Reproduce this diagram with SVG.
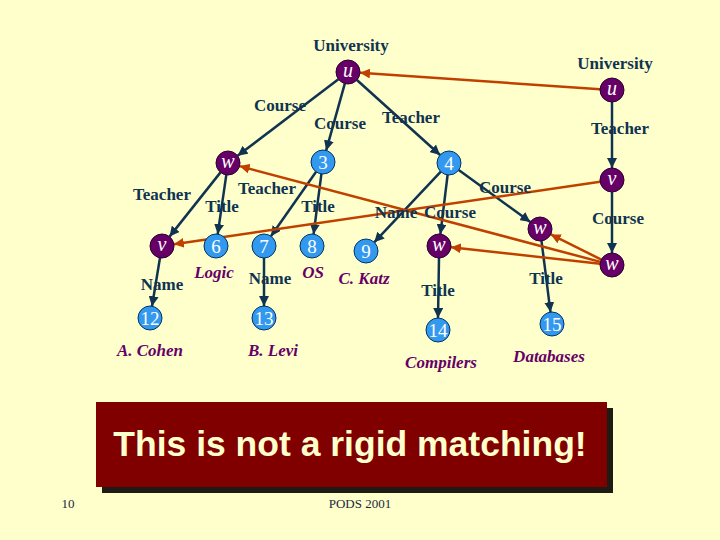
<svg xmlns="http://www.w3.org/2000/svg" width="720" height="540" viewBox="0 0 720 540">
<style>
.lbl{font-family:"Liberation Serif",serif;font-weight:bold;font-size:17px;fill:#0f3350;text-anchor:middle}
.val{font-family:"Liberation Serif",serif;font-weight:bold;font-style:italic;font-size:17px;fill:#660066;text-anchor:middle}
.pn circle{fill:#660066;stroke:#2a0033;stroke-width:1}
.bn circle{fill:#3399ee;stroke:#003366;stroke-width:1}
.pn text{font-family:"Liberation Serif",serif;font-style:italic;font-size:20px;fill:#ffffff;text-anchor:middle}
.bn text{font-family:"Liberation Serif",serif;font-size:19px;fill:#ffffff;text-anchor:middle}
.e{stroke:#0f3350;stroke-width:2.5;fill:none;marker-end:url(#ah)}
.m{stroke:#c04000;stroke-width:2.5;fill:none;marker-end:url(#rh)}
.foot{font-family:"Liberation Serif",serif;font-size:13px;fill:#1a2a3a;text-anchor:middle}
</style>
<defs>
<marker id="ah" viewBox="0 0 10 10" refX="10" refY="5" markerWidth="4" markerHeight="4" orient="auto" markerUnits="strokeWidth"><path d="M0,0 L10,5 L0,10 z" fill="#0f3350"/></marker>
<marker id="rh" viewBox="0 0 10 10" refX="10" refY="5" markerWidth="4" markerHeight="4" orient="auto" markerUnits="strokeWidth"><path d="M0,0 L10,5 L0,10 z" fill="#c04000"/></marker>
</defs>
<rect x="0" y="0" width="720" height="540" fill="#ffffcc"/>
<g id="connectors">
<line class="e" x1="338.4" y1="79.2" x2="237.6" y2="155.8"/>
<line class="e" x1="344.8" y1="83.6" x2="326.2" y2="150.4"/>
<line class="e" x1="356.9" y1="80" x2="440.1" y2="155"/>
<line class="e" x1="220.5" y1="172.4" x2="169.5" y2="236.6"/>
<line class="e" x1="226.3" y1="174.9" x2="217.7" y2="234.1"/>
<line class="e" x1="316.1" y1="171.8" x2="270.9" y2="236.2"/>
<line class="e" x1="321.4" y1="173.9" x2="313.6" y2="234.1"/>
<line class="e" x1="440.8" y1="171.7" x2="374.2" y2="242.3"/>
<line class="e" x1="447.6" y1="174.9" x2="440.4" y2="234.1"/>
<line class="e" x1="458.7" y1="170" x2="530.3" y2="222"/>
<line class="e" x1="160" y1="257.8" x2="152" y2="306.2"/>
<line class="e" x1="264" y1="258" x2="264" y2="306"/>
<line class="e" x1="439" y1="258" x2="438" y2="318"/>
<line class="e" x1="541.5" y1="240.9" x2="550.5" y2="312.1"/>
<line class="e" x1="612" y1="102" x2="612" y2="168"/>
<line class="e" x1="612" y1="192" x2="612" y2="253"/>
<line class="m" x1="600" y1="89.2" x2="360" y2="72.8"/>
<line class="m" x1="600.1" y1="181.7" x2="173.9" y2="244.3"/>
<line class="m" x1="600.4" y1="261.9" x2="239.6" y2="166.1"/>
<line class="m" x1="600.1" y1="263.7" x2="450.9" y2="247.3"/>
<line class="m" x1="601.3" y1="259.6" x2="550.7" y2="234.4"/>
</g>
<g id="edge-labels">
<text class="lbl" x="351" y="51">University</text>
<text class="lbl" x="615" y="69">University</text>
<text class="lbl" x="280" y="111">Course</text>
<text class="lbl" x="340" y="129">Course</text>
<text class="lbl" x="411" y="123">Teacher</text>
<text class="lbl" x="620" y="134">Teacher</text>
<text class="lbl" x="162" y="200">Teacher</text>
<text class="lbl" x="222" y="212">Title</text>
<text class="lbl" x="267" y="194">Teacher</text>
<text class="lbl" x="318" y="212">Title</text>
<text class="lbl" x="396" y="218">Name</text>
<text class="lbl" x="450" y="218">Course</text>
<text class="lbl" x="505" y="193">Course</text>
<text class="lbl" x="618" y="224">Course</text>
<text class="lbl" x="162" y="290">Name</text>
<text class="lbl" x="270" y="284">Name</text>
<text class="lbl" x="438" y="296">Title</text>
<text class="lbl" x="546" y="284">Title</text>
</g>
<g id="values">
<text class="val" x="214" y="278">Logic</text>
<text class="val" x="313" y="278">OS</text>
<text class="val" x="364" y="284">C. Katz</text>
<text class="val" x="150" y="356">A. Cohen</text>
<text class="val" x="273" y="356">B. Levi</text>
<text class="val" x="441" y="368">Compilers</text>
<text class="val" x="549" y="362">Databases</text>
</g>
<g id="uL" class="pn"><circle cx="348" cy="72" r="12"/><text x="348" y="77">u</text></g>
<g id="wL" class="pn"><circle cx="228" cy="163" r="12"/><text x="228" y="168">w</text></g>
<g id="vL" class="pn"><circle cx="162" cy="246" r="12"/><text x="162" y="251">v</text></g>
<g id="wA" class="pn"><circle cx="439" cy="246" r="12"/><text x="439" y="251">w</text></g>
<g id="wB" class="pn"><circle cx="540" cy="229" r="12"/><text x="540" y="234">w</text></g>
<g id="uR" class="pn"><circle cx="612" cy="90" r="12"/><text x="612" y="95">u</text></g>
<g id="vR" class="pn"><circle cx="612" cy="180" r="12"/><text x="612" y="185">v</text></g>
<g id="wR" class="pn"><circle cx="612" cy="265" r="12"/><text x="612" y="270">w</text></g>
<g id="n3" class="bn"><circle cx="323" cy="162" r="12"/><text x="323" y="169">3</text></g>
<g id="n4" class="bn"><circle cx="449" cy="163" r="12"/><text x="449" y="170">4</text></g>
<g id="n6" class="bn"><circle cx="216" cy="246" r="12"/><text x="216" y="253">6</text></g>
<g id="n7" class="bn"><circle cx="264" cy="246" r="12"/><text x="264" y="253">7</text></g>
<g id="n8" class="bn"><circle cx="312" cy="246" r="12"/><text x="312" y="253">8</text></g>
<g id="n9" class="bn"><circle cx="366" cy="251" r="12"/><text x="366" y="258">9</text></g>
<g id="n12" class="bn"><circle cx="150" cy="318" r="12"/><text x="150" y="325">12</text></g>
<g id="n13" class="bn"><circle cx="264" cy="318" r="12"/><text x="264" y="325">13</text></g>
<g id="n14" class="bn"><circle cx="438" cy="330" r="12"/><text x="438" y="337">14</text></g>
<g id="n15" class="bn"><circle cx="552" cy="324" r="12"/><text x="552" y="331">15</text></g>
<g id="banner">
<rect x="102" y="408" width="511" height="85" fill="#1e1a14"/>
<rect x="96" y="402" width="511" height="85" fill="#800000"/>
<text x="350" y="456" font-family="'Liberation Sans',Arial,sans-serif" font-weight="bold" font-size="35.5" fill="#ffffcc" text-anchor="middle">This is not a rigid matching!</text>
</g>
<text class="foot" x="68" y="508">10</text>
<text class="foot" x="360" y="508">PODS 2001</text>
</svg>
